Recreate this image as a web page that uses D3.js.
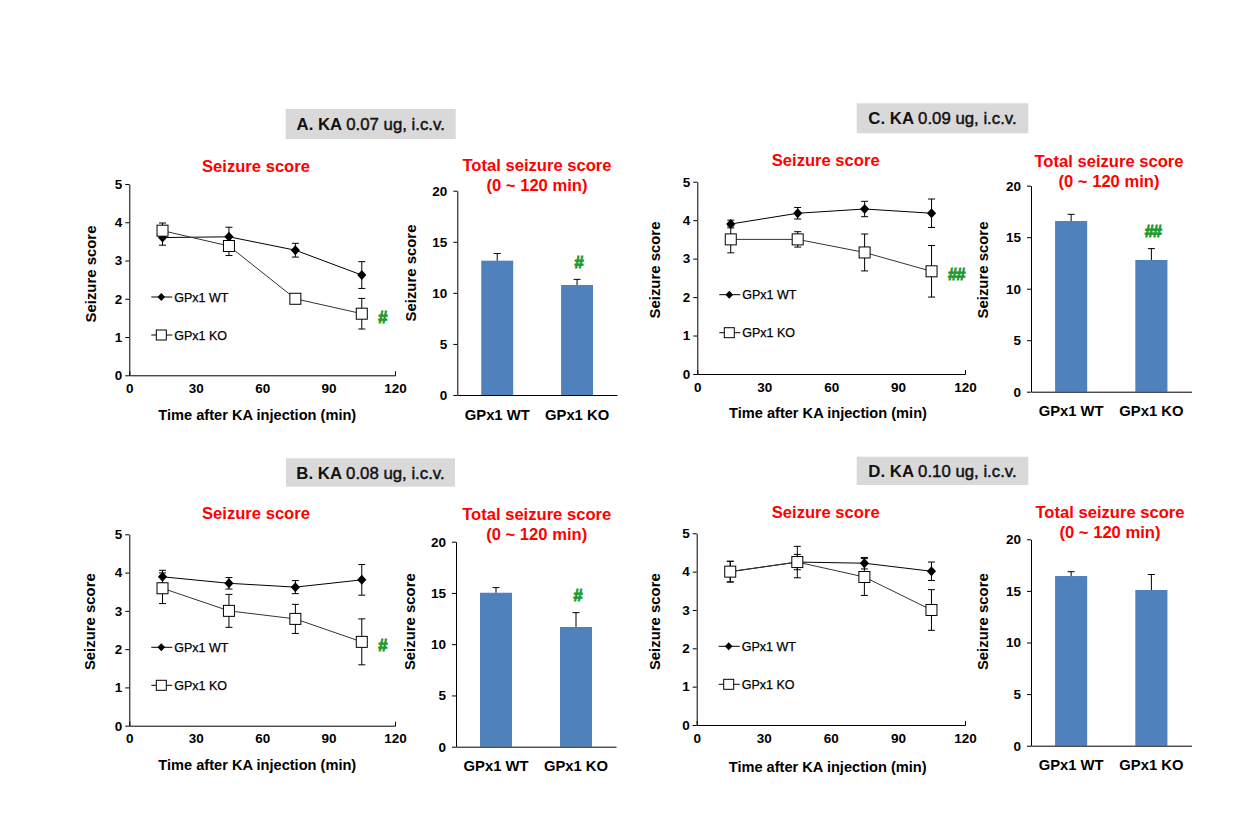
<!DOCTYPE html>
<html><head><meta charset="utf-8">
<script src="https://cdn.jsdelivr.net/npm/d3@7"></script>
<style>
body{margin:0;background:#fff}
svg{display:block}
text{font-family:"Liberation Sans",Arial,sans-serif}
</style>
</head><body>
<svg id="chart" width="1258" height="833"></svg>
<script>
// ---------- data ----------
const times = [15, 45, 75, 105];
const xTickValues = [0, 30, 60, 90, 120];
const lineYTicks = [0, 1, 2, 3, 4, 5];
const barYTicks = [0, 5, 10, 15, 20];
const groups = ["GPx1 WT", "GPx1 KO"];
const panelPrefix = ["A. KA", "B. KA", "C. KA", "D. KA"];
const panelDose = ["0.07 ug, i.c.v.", "0.08 ug, i.c.v.", "0.09 ug, i.c.v.", "0.10 ug, i.c.v."];
const lineTitle = "Seizure score";
const barTitle = ["Total seizure score", "(0 ~ 120 min)"];
const yAxisTitle = "Seizure score";
const xAxisTitle = "Time after KA injection (min)";

// Seizure score over time (mean, SEM)
const wtA = [3.60, 3.62, 3.27, 2.62];  const wtAErr = [0.20, 0.25, 0.18, 0.35];
const koA = [3.78, 3.38, 2.00, 1.61];  const koAErr = [0.20, 0.25, 0.05, 0.40];
const wtB = [3.89, 3.72, 3.62, 3.81];  const wtBErr = [0.17, 0.15, 0.17, 0.40];
const koB = [3.59, 3.00, 2.79, 2.19];  const koBErr = [0.40, 0.43, 0.38, 0.60];
const wtC = [3.90, 4.18, 4.29, 4.18];  const wtCErr = [0.10, 0.15, 0.20, 0.37];
const koC = [3.50, 3.50, 3.16, 2.67];  const koCErr = [0.35, 0.20, 0.48, 0.67];
const wtD = [4.00, 4.25, 4.22, 4.01];  const wtDErr = [0.27, 0.20, 0.15, 0.24];
const koD = [4.00, 4.25, 3.86, 3.00];  const koDErr = [0.27, 0.41, 0.48, 0.53];

// Total seizure score (WT, KO)
const totalA = [13.15, 10.77]; const totalAErr = [0.70, 0.55];
const totalB = [15.02, 11.68]; const totalBErr = [0.50, 1.40];
const totalC = [16.57, 12.79]; const totalCErr = [0.65, 1.10];
const totalD = [16.44, 15.09]; const totalDErr = [0.42, 1.50];

const lineSig = ["#", "#", "##", ""];
const barSig = ["#", "#", "##", ""];

// ---------- layout (pixel positions) ----------
const layout = [
  {box:[285.7,109,455.7,139],
   line:{x0:129.3,x1:395,yTop:184,yBot:375.3,titleX:256,titleY:165.7,yTitleX:91,yTitleY:274,xTitleX:257.3,xTitleY:415},
   bar:{x0:457.3,x1:617,yTop:190.7,yBot:395,titleX:537,titleY:165,yTitleX:411,yTitleY:273}},
  {box:[286,458.3,455,486.7],
   line:{x0:129.3,x1:395,yTop:534.3,yBot:725.7,titleX:256,titleY:513.3,yTitleX:89.5,yTitleY:621.7,xTitleX:257.3,xTitleY:765},
   bar:{x0:456,x1:616,yTop:541.7,yBot:746.7,titleX:536.7,titleY:514,yTitleX:410,yTitleY:621.7}},
  {box:[856.7,103.3,1028.3,133.3],
   line:{x0:697.3,x1:965,yTop:181.7,yBot:374,titleX:825.7,titleY:160,yTitleX:655,yTitleY:270,xTitleX:828,xTitleY:413},
   bar:{x0:1031,x1:1191.5,yTop:185.7,yBot:391.7,titleX:1109,titleY:160.7,yTitleX:982.7,yTitleY:270}},
  {box:[856.7,456.7,1028.3,485],
   line:{x0:696.7,x1:965,yTop:533.3,yBot:725,titleX:825.7,titleY:511.7,yTitleX:655,yTitleY:621.7,xTitleX:827.7,xTitleY:766.5},
   bar:{x0:1031,x1:1191.5,yTop:539.3,yBot:745.7,titleX:1110,titleY:511.7,yTitleX:982.7,yTitleY:621.7}}
];

const panels = [
  {wt:wtA, wtErr:wtAErr, ko:koA, koErr:koAErr, tot:totalA, totErr:totalAErr},
  {wt:wtB, wtErr:wtBErr, ko:koB, koErr:koBErr, tot:totalB, totErr:totalBErr},
  {wt:wtC, wtErr:wtCErr, ko:koC, koErr:koCErr, tot:totalC, totErr:totalCErr},
  {wt:wtD, wtErr:wtDErr, ko:koD, koErr:koDErr, tot:totalD, totErr:totalDErr}
];

const RED = "#ff0000", GREEN = "#1f9a34", BLUE = "#4f81bd", BOXGRAY = "#d9d9d9";
const diamondPath = "M0,-5L4.6,0L0,5L-4.6,0Z";
const svg = d3.select("#chart");
svg.append("rect").attr("width",1258).attr("height",833).attr("fill","#fff");

function styleAxis(g, size) {
  g.select(".domain").attr("stroke","#000").attr("stroke-width",1);
  g.selectAll(".tick line").attr("stroke","#000");
  g.selectAll(".tick text").attr("fill","#000").style("font-size",size+"px")
    .style("font-weight","bold").style("font-family","'Liberation Sans',Arial,sans-serif");
}

function drawBox(i) {
  const b = layout[i].box;
  svg.append("rect").attr("x",b[0]).attr("y",b[1]).attr("width",b[2]-b[0]).attr("height",b[3]-b[1]).attr("fill",BOXGRAY);
  const t = svg.append("text").attr("x",(b[0]+b[2])/2).attr("y",(b[1]+b[3])/2).attr("dy","0.36em")
    .attr("text-anchor","middle").style("font-size","16.8px").attr("fill","#111");
  t.append("tspan").style("font-weight","bold").text(panelPrefix[i] + " ");
  t.append("tspan").style("font-weight","normal").attr("stroke","#111").attr("stroke-width",0.45).text(panelDose[i]);
}

function errBars(g, xs, ys, vals, errs, cap) {
  vals.forEach((v, k) => {
    const cx = xs(times[k]);
    g.append("line").attr("x1",cx).attr("x2",cx).attr("y1",ys(v-errs[k])).attr("y2",ys(v+errs[k])).attr("stroke","#000");
    [v-errs[k], v+errs[k]].forEach(e => {
      g.append("line").attr("x1",cx-cap).attr("x2",cx+cap).attr("y1",ys(e)).attr("y2",ys(e)).attr("stroke","#000");
    });
  });
}

function sigText(g, x, y, anchor, txt) {
  g.append("text").attr("x",x).attr("y",y).attr("dy","0.36em").attr("text-anchor",anchor)
    .attr("fill",GREEN).attr("stroke",GREEN).attr("stroke-width",0.9)
    .style("font-size","16.5px").style("font-weight","bold").attr("letter-spacing","-1px").text(txt);
}

function drawLine(i) {
  const L = layout[i].line, P = panels[i];
  const x = d3.scaleLinear().domain([0,120]).range([L.x0,L.x1]);
  const y = d3.scaleLinear().domain([0,5]).range([L.yBot,L.yTop]);
  const g = svg.append("g");

  const gx = g.append("g").attr("transform",`translate(0,${L.yBot})`)
    .call(d3.axisBottom(x).tickValues(xTickValues).tickFormat(d3.format("d")).tickSizeInner(0).tickSizeOuter(-4).tickPadding(8));
  styleAxis(gx, 13.5);
  const gy = g.append("g").attr("transform",`translate(${L.x0},0)`)
    .call(d3.axisLeft(y).tickValues(lineYTicks).tickFormat(d3.format("d")).tickSizeInner(4).tickSizeOuter(0).tickPadding(3));
  styleAxis(gy, 13.5);

  g.append("text").attr("x",L.titleX).attr("y",L.titleY).attr("dy","0.35em").attr("text-anchor","middle")
    .attr("fill",RED).style("font-size","16.6px").style("font-weight","bold").text(lineTitle);
  g.append("text").attr("transform",`translate(${L.yTitleX},${L.yTitleY}) rotate(-90)`).attr("dy","0.35em")
    .attr("text-anchor","middle").style("font-size","14.9px").style("font-weight","bold").text(yAxisTitle);
  g.append("text").attr("x",L.xTitleX).attr("y",L.xTitleY).attr("dy","0.35em").attr("text-anchor","middle")
    .style("font-size","14.6px").style("font-weight","bold").text(xAxisTitle);

  const lineGen = vals => d3.line().x((d,k)=>x(times[k])).y(d=>y(d))(vals);
  // WT
  errBars(g, x, y, P.wt, P.wtErr, 3.5);
  g.append("path").attr("d",lineGen(P.wt)).attr("fill","none").attr("stroke","#000").attr("stroke-width",1);
  P.wt.forEach((v,k)=> g.append("path").attr("d",diamondPath).attr("transform",`translate(${x(times[k])},${y(v)})`).attr("fill","#000"));
  // KO
  errBars(g, x, y, P.ko, P.koErr, 3.5);
  g.append("path").attr("d",lineGen(P.ko)).attr("fill","none").attr("stroke","#333").attr("stroke-width",1);
  P.ko.forEach((v,k)=> g.append("rect").attr("x",x(times[k])-5.5).attr("y",y(v)-5.5).attr("width",11).attr("height",11)
    .attr("fill","#fff").attr("stroke","#000").attr("stroke-width",1));

  // legend
  const legY = [L.yTop+113, L.yTop+151];
  groups.forEach((name, k) => {
    const ly = legY[k];
    g.append("line").attr("x1",L.x0+22).attr("x2",L.x0+43).attr("y1",ly).attr("y2",ly).attr("stroke","#000");
    if (k === 0) {
      g.append("path").attr("d","M0,-4L3.8,0L0,4L-3.8,0Z").attr("transform",`translate(${L.x0+32},${ly})`).attr("fill","#000");
    } else {
      g.append("rect").attr("x",L.x0+32-5).attr("y",ly-5).attr("width",10).attr("height",10).attr("fill","#fff").attr("stroke","#000");
    }
    g.append("text").attr("x",L.x0+45).attr("y",ly).attr("dy","0.36em").style("font-size","12.5px")
      .attr("stroke","#000").attr("stroke-width",0.25).text(name);
  });

  if (lineSig[i]) {
    const last = P.ko.length - 1;
    sigText(g, x(times[last])+16.5, y(P.ko[last])+3, "start", lineSig[i]);
  }
}

function drawBar(i) {
  const B = layout[i].bar, P = panels[i];
  const x = d3.scaleBand().domain(groups).range([B.x0,B.x1]).paddingInner(0.6).paddingOuter(0.3);
  const y = d3.scaleLinear().domain([0,20]).range([B.yBot,B.yTop]);
  const g = svg.append("g");

  g.append("text").attr("x",B.titleX).attr("y",B.titleY).attr("dy","0.35em").attr("text-anchor","middle")
    .attr("fill",RED).style("font-size","16.6px").style("font-weight","bold").text(barTitle[0]);
  g.append("text").attr("x",B.titleX).attr("y",B.titleY+20).attr("dy","0.35em").attr("text-anchor","middle")
    .attr("fill",RED).style("font-size","16.6px").style("font-weight","bold").text(barTitle[1]);
  g.append("text").attr("transform",`translate(${B.yTitleX},${B.yTitleY}) rotate(-90)`).attr("dy","0.35em")
    .attr("text-anchor","middle").style("font-size","14.9px").style("font-weight","bold").text(yAxisTitle);

  groups.forEach((name,k) => {
    const cx = x(name) + x.bandwidth()/2;
    g.append("rect").attr("x",x(name)).attr("y",y(P.tot[k])).attr("width",x.bandwidth())
      .attr("height",y(0)-y(P.tot[k])).attr("fill",BLUE);
    const top = y(P.tot[k]+P.totErr[k]);
    g.append("line").attr("x1",cx).attr("x2",cx).attr("y1",y(P.tot[k])).attr("y2",top).attr("stroke","#000");
    g.append("line").attr("x1",cx-3.5).attr("x2",cx+3.5).attr("y1",top).attr("y2",top).attr("stroke","#000");
    if (k === 1 && barSig[i]) {
      sigText(g, cx+1.5, top-17.5, "middle", barSig[i]);
    }
  });

  const gx = g.append("g").attr("transform",`translate(0,${B.yBot})`)
    .call(d3.axisBottom(x).tickSizeInner(0).tickSizeOuter(0).tickPadding(14));
  styleAxis(gx, 14.8);
  gx.selectAll(".tick text").attr("dy","0.35em").attr("y",19.5);
  const gy = g.append("g").attr("transform",`translate(${B.x0},0)`)
    .call(d3.axisLeft(y).tickValues(barYTicks).tickSizeInner(4).tickSizeOuter(0).tickPadding(6));
  styleAxis(gy, 13.5);
}

for (let i = 0; i < 4; i++) { drawBox(i); drawLine(i); drawBar(i); }
</script>
</body></html>
